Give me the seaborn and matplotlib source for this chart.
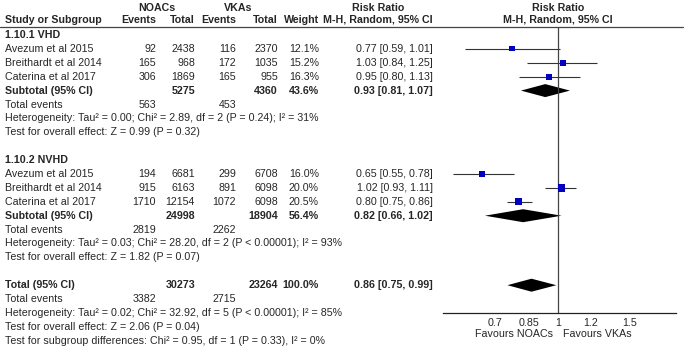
import matplotlib
matplotlib.use("Agg")
import matplotlib.pyplot as plt
import numpy as np
import pandas as pd
import seaborn as sns

sns.set_theme(style="white")
plt.rcParams['font.family'] = ['Liberation Sans', 'DejaVu Sans']

# ---- data ----
studies = ['Avezum et al 2015', 'Breithardt et al 2014', 'Caterina et al 2017']
noac_events_vhd = [92, 165, 306]
noac_total_vhd = [2438, 968, 1869]
vka_events_vhd = [116, 172, 165]
vka_total_vhd = [2370, 1035, 955]
weight_vhd = [12.1, 15.2, 16.3]
rr_vhd = [0.77, 1.03, 0.95]
lo_vhd = [0.59, 0.84, 0.80]
hi_vhd = [1.01, 1.25, 1.13]

noac_events_nvhd = [194, 915, 1710]
noac_total_nvhd = [6681, 6163, 12154]
vka_events_nvhd = [299, 891, 1072]
vka_total_nvhd = [6708, 6098, 6098]
weight_nvhd = [16.0, 20.0, 20.5]
rr_nvhd = [0.65, 1.02, 0.80]
lo_nvhd = [0.55, 0.93, 0.75]
hi_nvhd = [0.78, 1.11, 0.86]

# subtotal / total rows: noac total, vka total, weight, rr, lo, hi
sub_vhd = [5275, 4360, 43.6, 0.93, 0.81, 1.07]
sub_nvhd = [24998, 18904, 56.4, 0.82, 0.66, 1.02]
overall = [30273, 23264, 100.0, 0.86, 0.75, 0.99]
events_vhd = [563, 453]
events_nvhd = [2819, 2262]
events_all = [3382, 2715]

het_vhd = 'Heterogeneity: Tau² = 0.00; Chi² = 2.89, df = 2 (P = 0.24); I² = 31%'
eff_vhd = 'Test for overall effect: Z = 0.99 (P = 0.32)'
het_nvhd = 'Heterogeneity: Tau² = 0.03; Chi² = 28.20, df = 2 (P < 0.00001); I² = 93%'
eff_nvhd = 'Test for overall effect: Z = 1.82 (P = 0.07)'
het_all = 'Heterogeneity: Tau² = 0.02; Chi² = 32.92, df = 5 (P < 0.00001); I² = 85%'
eff_all = 'Test for overall effect: Z = 2.06 (P = 0.04)'
sub_diff = 'Test for subgroup differences: Chi² = 0.95, df = 1 (P = 0.33), I² = 0%'

ticks = [0.7, 0.85, 1, 1.2, 1.5]
tick_labels = ['0.7', '0.85', '1', '1.2', '1.5']

# ---- layout (pixels, figure is 685 x 349) ----
W, H = 685, 349
ROW0, STEP = 35, 13.9
def row(i):
    return ROW0 + STEP * i

FS = 7.65
TXT = '#262626'
col_ev1, col_tot1, col_ev2, col_tot2, col_w, col_rr = 156, 195, 236, 278, 319, 433

fig = plt.figure(figsize=(W / 100, H / 100), dpi=100)
ax_t = fig.add_axes([0, 0, 1, 1])
ax_t.set_xlim(0, W)
ax_t.set_ylim(H, 0)
ax_t.axis('off')

def put(x, y, s, ha='left', bold=False):
    ax_t.text(x, y, s, ha=ha, va='center', fontsize=FS, color=TXT,
              fontweight='bold' if bold else 'normal')

# headers
put(157, 8, 'NOACs', ha='center', bold=True)
put(238, 8, 'VKAs', ha='center', bold=True)
put(378, 8, 'Risk Ratio', ha='center', bold=True)
put(558, 8, 'Risk Ratio', ha='center', bold=True)
put(5, 20, 'Study or Subgroup', bold=True)
put(col_ev1, 20, 'Events', ha='right', bold=True)
put(col_tot1, 20, 'Total', ha='right', bold=True)
put(col_ev2, 20, 'Events', ha='right', bold=True)
put(col_tot2, 20, 'Total', ha='right', bold=True)
put(col_w, 20, 'Weight', ha='right', bold=True)
put(col_rr, 20, 'M-H, Random, 95% CI', ha='right', bold=True)
put(558, 20, 'M-H, Random, 95% CI', ha='center', bold=True)
ax_t.axhline(27, xmin=0, xmax=683 / W, color='#444444', lw=0.9)

def ci_text(r, l, h):
    return f'{r:.2f} [{l:.2f}, {h:.2f}]'

groups = [
    ('1.10.1 VHD', 0, noac_events_vhd, noac_total_vhd, vka_events_vhd, vka_total_vhd,
     weight_vhd, rr_vhd, lo_vhd, hi_vhd, sub_vhd, events_vhd, het_vhd, eff_vhd),
    ('1.10.2 NVHD', 9, noac_events_nvhd, noac_total_nvhd, vka_events_nvhd, vka_total_nvhd,
     weight_nvhd, rr_nvhd, lo_nvhd, hi_nvhd, sub_nvhd, events_nvhd, het_nvhd, eff_nvhd),
]

rows = []
diamonds = []
for (title, start, e1, t1, e2, t2, w, rr, lo, hi, sub, ev, het, eff) in groups:
    put(5, row(start), title, bold=True)
    for k in range(3):
        y = row(start + 1 + k)
        put(5, y, studies[k])
        put(col_ev1, y, str(e1[k]), ha='right')
        put(col_tot1, y, str(t1[k]), ha='right')
        put(col_ev2, y, str(e2[k]), ha='right')
        put(col_tot2, y, str(t2[k]), ha='right')
        put(col_w, y, f'{w[k]:.1f}%', ha='right')
        put(col_rr, y, ci_text(rr[k], lo[k], hi[k]), ha='right')
        rows.append(dict(y=y, rr=rr[k], lo=lo[k], hi=hi[k], weight=w[k]))
    y = row(start + 4)
    put(5, y, 'Subtotal (95% CI)', bold=True)
    put(col_tot1, y, str(sub[0]), ha='right', bold=True)
    put(col_tot2, y, str(sub[1]), ha='right', bold=True)
    put(col_w, y, f'{sub[2]:.1f}%', ha='right', bold=True)
    put(col_rr, y, ci_text(*sub[3:]), ha='right', bold=True)
    diamonds.append((y, *sub[3:]))
    put(5, row(start + 5), 'Total events')
    put(col_ev1, row(start + 5), str(ev[0]), ha='right')
    put(col_ev2, row(start + 5), str(ev[1]), ha='right')
    put(5, row(start + 6), het)
    put(5, row(start + 7), eff)

y = row(18)
put(5, y, 'Total (95% CI)', bold=True)
put(col_tot1, y, str(overall[0]), ha='right', bold=True)
put(col_tot2, y, str(overall[1]), ha='right', bold=True)
put(col_w, y, f'{overall[2]:.1f}%', ha='right', bold=True)
put(col_rr, y, ci_text(*overall[3:]), ha='right', bold=True)
diamonds.append((y, *overall[3:]))
put(5, row(19), 'Total events')
put(col_ev1, row(19), str(events_all[0]), ha='right')
put(col_ev2, row(19), str(events_all[1]), ha='right')
put(5, row(20), het_all)
put(5, row(21), eff_all)
put(5, row(22), sub_diff)

# ---- forest panel ----
x0, x1, ytop, ybot = 443, 676, 27, 313
ax = fig.add_axes([x0 / W, (H - ybot) / H, (x1 - x0) / W, (ybot - ytop) / H])
ax.set_xscale('log')
ax.set_xlim(0.52, 1.955)
ax.set_ylim(ybot, ytop)
ax.patch.set_alpha(0)

df = pd.DataFrame(rows)
ax.hlines(df['y'], df['lo'], df['hi'], color='#333333', lw=0.8)
sns.scatterplot(data=df, x='rr', y='y', size='weight', sizes=(14, 28), marker='s',
                color='#0000c0', linewidth=0, legend=False, ax=ax, zorder=3)
for (yd, est, l, h) in diamonds:
    ax.fill([l, est, h, est], [yd, yd - 6.5, yd, yd + 6.5], color='black', lw=0)

ax.axvline(1, color='#444444', lw=0.9)
for s in ['top', 'right', 'left']:
    ax.spines[s].set_visible(False)
ax.spines['bottom'].set_color('#222222')
ax.spines['bottom'].set_linewidth(0.9)
ax.set_xticks(ticks)
ax.set_xticklabels(tick_labels)
ax.xaxis.set_minor_locator(matplotlib.ticker.NullLocator())
ax.tick_params(axis='x', direction='inout', length=7, width=0.9, color='#222222',
               labelsize=FS, labelcolor=TXT, pad=0)
ax.set_yticks([])
ax.set_xlabel('')
ax.set_ylabel('')

put(553, 334, 'Favours NOACs', ha='right')
put(563, 334, 'Favours VKAs', ha='left')

fig.savefig('out.png', dpi=100)
